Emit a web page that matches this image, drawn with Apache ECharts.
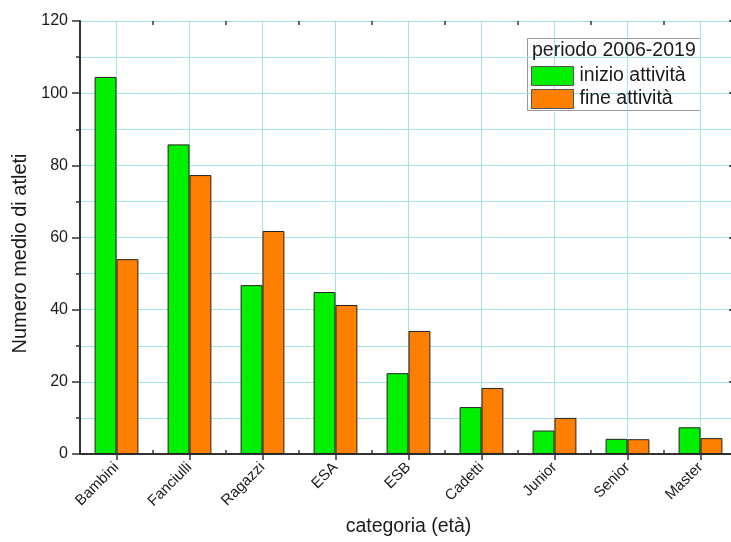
<!DOCTYPE html>
<html>
<head>
<meta charset="utf-8">
<script src="https://cdn.jsdelivr.net/npm/echarts@6/dist/echarts.min.js"></script>
<style>
  html, body { margin: 0; padding: 0; background: #fff; }
  #chart { width: 731px; height: 542px; }
</style>
</head>
<body>
<div id="chart"></div>
<script>
// Categorie di età e numero medio di atleti (periodo 2006-2019)
const categories = ['Bambini', 'Fanciulli', 'Ragazzi', 'ESA', 'ESB', 'Cadetti', 'Junior', 'Senior', 'Master'];
const inizioAttivita = [104.5, 85.8, 46.8, 44.9, 22.4, 13.0, 6.5, 4.2, 7.4];
const fineAttivita = [54.0, 77.3, 61.8, 41.3, 34.1, 18.3, 10.0, 4.1, 4.4];
const seriesNames = ['inizio attività', 'fine attività'];
const legendTitle = 'periodo 2006-2019';
const yTicks = { min: 0, max: 120, interval: 20 };

const FONT = 'Liberation Sans, Arial, sans-serif';
const AXIS = '#333';
const GRID = '#a2e2ec';

const chart = echarts.init(document.getElementById('chart'));

chart.setOption({
  animation: false,
  textStyle: { fontFamily: FONT },
  // the frame runs a few pixels past the right edge of the canvas
  grid: { left: 80, top: 21, height: 433, width: 657, containLabel: false, outerBoundsMode: 'none' },
  xAxis: [
    {
      type: 'category',
      data: categories,
      position: 'bottom',
      name: 'categoria (età)',
      nameLocation: 'middle',
      nameGap: 53,
      nameTextStyle: { fontSize: 19.5, color: '#1a1a1a', fontFamily: FONT },
      axisLine: { lineStyle: { color: AXIS, width: 2 } },
      axisTick: { show: true, inside: true, length: 4, lineStyle: { color: AXIS, width: 1.5 } },
      axisLabel: { rotate: 45, fontSize: 15, color: '#1a1a1a', margin: 11, fontFamily: FONT, interval: 0 },
      splitLine: { show: false }
    },
    {
      type: 'category',
      data: categories,
      position: 'top',
      axisLine: { show: true, lineStyle: { color: AXIS, width: 2 } },
      axisTick: { show: true, inside: true, alignWithLabel: true, length: 6, lineStyle: { color: AXIS, width: 1.5 } },
      axisLabel: { show: false },
      splitLine: { show: true, alignWithLabel: true, lineStyle: { color: GRID, width: 1 } }
    },
    {
      type: 'category',
      data: categories,
      position: 'top',
      axisLine: { show: false },
      axisTick: { show: true, inside: true, length: 4, lineStyle: { color: AXIS, width: 1.5 } },
      axisLabel: { show: false },
      splitLine: { show: false }
    }
  ],
  yAxis: [
    {
      type: 'value',
      min: yTicks.min,
      max: yTicks.max,
      interval: yTicks.interval,
      position: 'left',
      name: 'Numero medio di atleti',
      nameLocation: 'middle',
      nameGap: 48,
      nameTextStyle: { fontSize: 20, color: '#1a1a1a', fontFamily: FONT, padding: [0, 32, 0, 0] },
      axisLine: { show: true, lineStyle: { color: AXIS, width: 2 } },
      axisTick: { show: true, inside: false, length: 8, lineStyle: { color: AXIS, width: 1.5 } },
      minorTick: { show: true, splitNumber: 2, length: 4, lineStyle: { color: AXIS, width: 1.5 } },
      axisLabel: { fontSize: 16, color: '#1a1a1a', margin: 12, fontFamily: FONT },
      splitLine: { show: true, lineStyle: { color: GRID, width: 1 } },
      minorSplitLine: { show: true, lineStyle: { color: GRID, width: 1 } }
    },
    {
      type: 'value',
      min: yTicks.min,
      max: yTicks.max,
      interval: yTicks.interval,
      position: 'right',
      axisLine: { show: true, lineStyle: { color: AXIS, width: 2 } },
      axisTick: { show: true, inside: true, length: 8, lineStyle: { color: AXIS, width: 1.5 } },
      axisLabel: { show: false },
      splitLine: { show: false }
    }
  ],
  legend: {
    orient: 'vertical',
    left: 531,
    top: 66,
    padding: 0,
    itemWidth: 42,
    itemHeight: 19,
    itemGap: 3,
    icon: 'rect',
    data: seriesNames,
    itemStyle: { borderColor: '#555', borderWidth: 1 },
    textStyle: { fontSize: 19.5, color: '#1a1a1a', fontFamily: FONT, padding: [0, 0, 0, 1] }
  },
  graphic: [
    {
      type: 'rect',
      shape: { x: 527.5, y: 38.5, width: 173, height: 72 },
      style: { fill: '#fff', stroke: '#999', lineWidth: 1 },
      z: 0
    },
    {
      type: 'text',
      x: 532,
      y: 41,
      style: { text: legendTitle, fontSize: 19.5, fill: '#1a1a1a', fontFamily: FONT },
      z: 1
    }
  ],
  series: [
    {
      name: seriesNames[0],
      type: 'bar',
      data: inizioAttivita,
      barGap: '0%',
      barCategoryGap: '40%',
      itemStyle: { color: '#00f000', borderColor: '#222', borderWidth: 1 }
    },
    {
      name: seriesNames[1],
      type: 'bar',
      data: fineAttivita,
      barGap: '0%',
      barCategoryGap: '40%',
      itemStyle: { color: '#ff7f00', borderColor: '#222', borderWidth: 1 }
    }
  ]
});
</script>
</body>
</html>
